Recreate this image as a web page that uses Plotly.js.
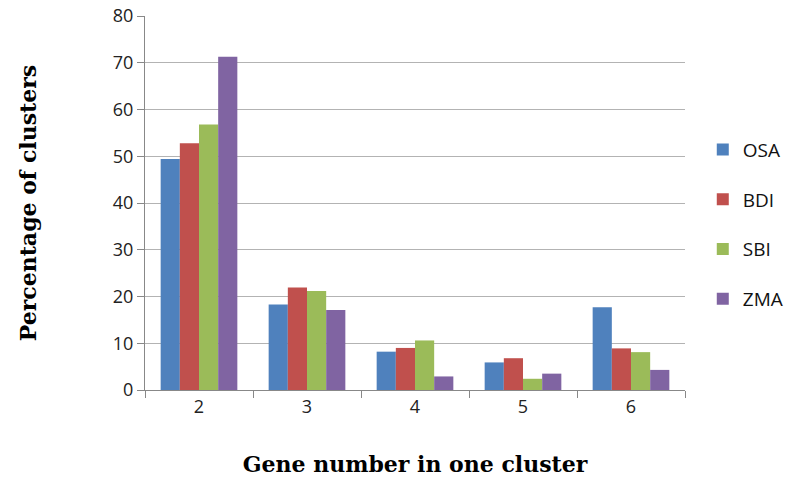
<!DOCTYPE html>
<html>
<head>
<meta charset="utf-8">
<script src="https://cdn.plot.ly/plotly-3.0.1.min.js"></script>
<style>html,body{margin:0;padding:0;background:#fff;}#chart{width:795px;height:495px;}</style>
</head>
<body>
<div id="chart"></div>
<script>
const categories = ["2", "3", "4", "5", "6"];
const seriesNames = ["OSA", "BDI", "SBI", "ZMA"];
const OSA = [49.4, 18.3, 8.2, 5.9, 17.7];
const BDI = [52.8, 21.9, 9.0, 6.8, 8.9];
const SBI = [56.8, 21.2, 10.6, 2.4, 8.1];
const ZMA = [71.3, 17.1, 2.9, 3.5, 4.3];
const yTicks = [0, 10, 20, 30, 40, 50, 60, 70, 80];

const colors = ["#4f81bd", "#c0504d", "#9bbb59", "#8064a2"];
const values = [OSA, BDI, SBI, ZMA];

const traces = values.map((v, i) => ({
  type: "bar",
  name: seriesNames[i],
  x: categories,
  y: v,
  legendgroup: seriesNames[i],
  marker: {color: colors[i], line: {width: 0}},
  hoverinfo: "x+y+name"
}));

const titleFont = {family: "DejaVu Serif, serif", size: 22, color: "#000"};
const tickFont = {family: "Open Sans, Liberation Sans, sans-serif", size: 18, color: "#222"};

const layout = {
  width: 795, height: 495,
  margin: {l: 145, r: 110, t: 16, b: 105},
  paper_bgcolor: "#ffffff",
  plot_bgcolor: "#ffffff",
  barmode: "group",
  bargap: 0.29,
  bargroupgap: 0,
  showlegend: true,
  legend: {
    xref: "container", yref: "container",
    x: 0.884, xanchor: "left", y: 0.547, yanchor: "middle",
    traceorder: "grouped", tracegroupgap: 22,
    font: {family: "Open Sans, Liberation Sans, sans-serif", size: 19, color: "#111"},
    itemwidth: 30
  },
  xaxis: {
    type: "category",
    tickson: "boundaries",
    ticks: "outside", ticklen: 7, tickcolor: "#888",
    showline: true, linecolor: "#888", linewidth: 1,
    showgrid: false,
    tickfont: tickFont,
    title: {text: "<b>Gene number in one cluster</b>", font: titleFont, standoff: 40}
  },
  yaxis: {
    range: [0, 80],
    tickvals: yTicks,
    ticks: "outside", ticklen: 7, tickcolor: "#888",
    showline: true, linecolor: "#888", linewidth: 1,
    showgrid: true, gridcolor: "#b3b3b3", gridwidth: 1,
    zeroline: false,
    tickfont: tickFont,
    title: {text: "<b>Percentage of clusters</b>", font: titleFont, standoff: 70}
  }
};

Plotly.newPlot("chart", traces, layout, {displayModeBar: false, staticPlot: true});
</script>
</body>
</html>
